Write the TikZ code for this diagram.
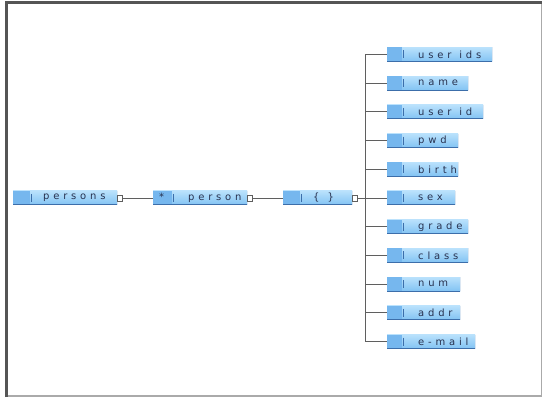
\documentclass[tikz,border=0pt]{standalone}
\usepackage{fontspec}
\newfontfamily\boxfont[LetterSpace=38]{DejaVu Sans}
\definecolor{boxtop}{RGB}{185,225,252}
\definecolor{boxbot}{RGB}{130,195,243}
\definecolor{boxleft}{RGB}{118,183,238}
\definecolor{boxedge}{RGB}{60,110,170}
\definecolor{textc}{RGB}{40,50,80}
\definecolor{connc}{RGB}{95,95,95}
\definecolor{framedark}{RGB}{85,85,85}
\definecolor{framelight}{RGB}{170,170,170}
\newcommand\wsp{\hbox to 8pt{\hfil}}
\begin{document}
\begin{tikzpicture}[x=1pt,y=-1pt,
  ebox/.style 2 args={anchor=west, rectangle, inner xsep=0pt, inner ysep=0pt,
    minimum height=14pt, minimum width=#1, align=left,
    font=\boxfont\fontsize{10}{10}\selectfont, text=textc,
    top color=boxtop, bottom color=boxbot,
    path picture={
      \fill[boxleft] (path picture bounding box.south west) rectangle ([xshift=#2]path picture bounding box.north west);
      \draw[boxedge, line width=1pt] ([xshift=#2+1pt, yshift=-3pt]path picture bounding box.north west) -- ([xshift=#2+1pt, yshift=3pt]path picture bounding box.south west);
      \draw[boxedge, line width=1.4pt] (path picture bounding box.south east) -- (path picture bounding box.north east);
      \draw[boxedge, line width=1pt] (path picture bounding box.south west) -- (path picture bounding box.south east);
    }},
  sq/.style={draw=connc, fill=white, line width=0.8pt, minimum width=5pt, minimum height=6pt, inner sep=0pt, anchor=west},
  conn/.style={draw=connc, line width=0.9pt}
]
\useasboundingbox (0,0) rectangle (544,401);
\fill[white] (0,0) rectangle (544,401);
% frame
\draw[framelight, line width=1.5pt] (6,396) -- (541.5,396) -- (541.5,3);
\draw[framedark, line width=3pt] (6,397) -- (6,3) -- (541.5,3);

% main chain
\node[ebox={104pt}{17pt}] (persons) at (13,198) {\makebox[104pt][l]{\hspace*{30pt}persons}};
\node[sq] (sq1) at (persons.east) {};
\node[ebox={94pt}{19pt}] (person) at (153,198) {\makebox[94pt][l]{\makebox[35pt][l]{\hspace*{6pt}*}person}};
\node[sq] (sq2) at (person.east) {};
\node[ebox={69pt}{17pt}] (seq) at (283,198) {\makebox[69pt][l]{\hspace*{30pt}\{\wsp\}}};
\node[sq] (sq3) at (seq.east) {};

\draw[conn] (sq1) -- (person);
\draw[conn] (sq2) -- (seq);

% children
\node[ebox={105pt}{15pt}] (userids) at (387,54.5) {\makebox[105pt][l]{\hspace*{31pt}user\wsp ids}};
\node[ebox={81pt}{15pt}]  (name)    at (387,83.2) {\makebox[81pt][l]{\hspace*{31pt}name}};
\node[ebox={96pt}{15pt}]  (userid)  at (387,111.9) {\makebox[96pt][l]{\hspace*{31pt}user\wsp id}};
\node[ebox={71pt}{15pt}]  (pwd)     at (387,140.6) {\makebox[71pt][l]{\hspace*{31pt}pwd}};
\node[ebox={71pt}{15pt}]  (birth)   at (387,169.3) {\makebox[71pt][l]{\hspace*{31pt}birth}};
\node[ebox={68pt}{15pt}]  (sex)     at (387,198) {\makebox[68pt][l]{\hspace*{31pt}sex}};
\node[ebox={81pt}{15pt}]  (grade)   at (387,226.7) {\makebox[81pt][l]{\hspace*{31pt}grade}};
\node[ebox={81pt}{15pt}]  (class)   at (387,255.4) {\makebox[81pt][l]{\hspace*{31pt}class}};
\node[ebox={73pt}{15pt}]  (num)     at (387,284.1) {\makebox[73pt][l]{\hspace*{31pt}num}};
\node[ebox={73pt}{15pt}]  (addr)    at (387,312.8) {\makebox[73pt][l]{\hspace*{31pt}addr}};
\node[ebox={88pt}{15pt}]  (email)   at (387,341.5) {\makebox[88pt][l]{\hspace*{31pt}e-mail}};

\coordinate (bus) at (365,198);
\draw[conn] (sq3) -- (bus);
\draw[conn] (userids.west -| bus) -- (email.west -| bus);
\foreach \n in {userids,name,userid,pwd,birth,sex,grade,class,num,addr,email}
  \draw[conn] (\n.west -| bus) -- (\n.west);
\end{tikzpicture}
\end{document}
